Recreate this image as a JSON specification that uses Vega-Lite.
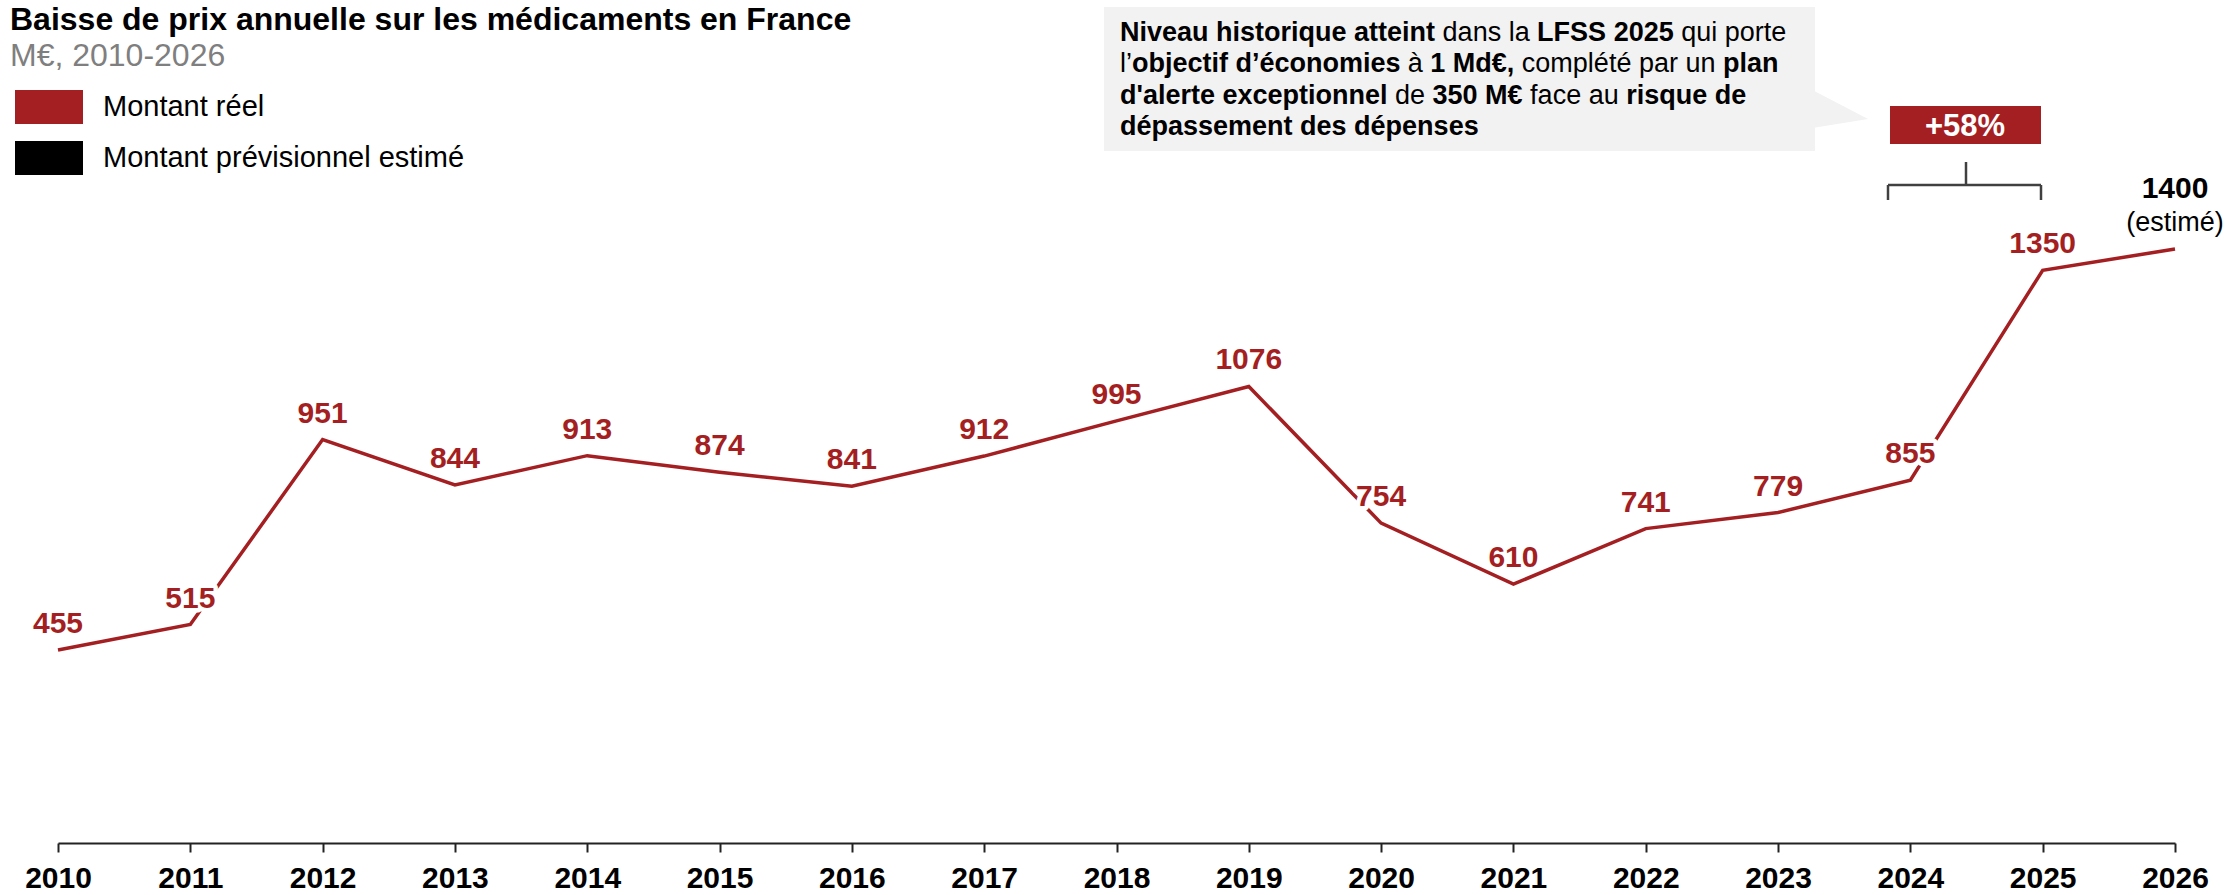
{
  "$schema": "https://vega.github.io/schema/vega-lite/v6.json",
  "width": 2117,
  "height": 843,
  "autosize": {"type": "none"},
  "padding": {"left": 58, "right": 50, "top": 0, "bottom": 52},
  "background": "white",
  "config": {"font": "Liberation Sans", "view": {"stroke": null}},
  "datasets": {
    "prix": [
      {"year": 2010, "value": 455, "type": "Montant réel"},
      {"year": 2011, "value": 515, "type": "Montant réel"},
      {"year": 2012, "value": 951, "type": "Montant réel"},
      {"year": 2013, "value": 844, "type": "Montant réel"},
      {"year": 2014, "value": 913, "type": "Montant réel"},
      {"year": 2015, "value": 874, "type": "Montant réel"},
      {"year": 2016, "value": 841, "type": "Montant réel"},
      {"year": 2017, "value": 912, "type": "Montant réel"},
      {"year": 2018, "value": 995, "type": "Montant réel"},
      {"year": 2019, "value": 1076, "type": "Montant réel"},
      {"year": 2020, "value": 754, "type": "Montant réel"},
      {"year": 2021, "value": 610, "type": "Montant réel"},
      {"year": 2022, "value": 741, "type": "Montant réel"},
      {"year": 2023, "value": 779, "type": "Montant réel"},
      {"year": 2024, "value": 855, "type": "Montant réel"},
      {"year": 2025, "value": 1350, "type": "Montant réel"},
      {"year": 2026, "value": 1400, "type": "Montant prévisionnel estimé"}
    ]
  },
  "layer": [
    {
      "data": {"name": "prix"},
      "mark": {"type": "line", "color": "#A41F22", "strokeWidth": 3.5},
      "encoding": {
        "x": {
          "field": "year", "type": "quantitative",
          "scale": {"domain": [2010, 2026], "nice": false, "zero": false},
          "axis": {
            "values": [2010, 2011, 2012, 2013, 2014, 2015, 2016, 2017, 2018, 2019, 2020, 2021, 2022, 2023, 2024, 2025, 2026],
            "format": "d", "title": null, "grid": false,
            "labelFont": "Liberation Sans", "labelFontSize": 30, "labelFontWeight": "bold", "labelColor": "black",
            "labelFlush": false, "labelOverlap": false, "labelPadding": 11,
            "tickSize": 9, "tickWidth": 2, "tickColor": "#222222",
            "domainColor": "#222222", "domainWidth": 2
          }
        },
        "y": {
          "field": "value", "type": "quantitative",
          "scale": {"domain": [0, 1987], "nice": false},
          "axis": null
        }
      }
    },
    {
      "data": {"name": "prix"},
      "transform": [{"filter": "datum.year < 2026"}],
      "mark": {"type": "text", "fontSize": 30, "fontWeight": "bold", "baseline": "alphabetic", "dy": -17, "fill": "white", "stroke": "white", "strokeWidth": 9, "strokeJoin": "round"},
      "encoding": {
        "x": {"field": "year", "type": "quantitative"},
        "y": {"field": "value", "type": "quantitative"},
        "text": {"field": "value", "type": "quantitative"}
      }
    },
    {
      "data": {"name": "prix"},
      "transform": [{"filter": "datum.year < 2026"}],
      "mark": {"type": "text", "fontSize": 30, "fontWeight": "bold", "baseline": "alphabetic", "dy": -17},
      "encoding": {
        "x": {"field": "year", "type": "quantitative"},
        "y": {"field": "value", "type": "quantitative"},
        "text": {"field": "value", "type": "quantitative"},
        "color": {
          "field": "type", "type": "nominal",
          "scale": {"domain": ["Montant réel", "Montant prévisionnel estimé"], "range": ["#A41F22", "#000000"]},
          "legend": {
            "title": null, "orient": "none", "legendX": -43, "legendY": 73, "direction": "vertical",
            "symbolType": "M-1,-0.5H1V0.5H-1Z", "symbolSize": 4624, "symbolStrokeWidth": 0, "symbolOpacity": 1,
            "labelFont": "Liberation Sans", "labelFontSize": 29, "labelColor": "black", "labelOffset": 20,
            "labelLimit": 0, "rowPadding": -28, "padding": 0
          }
        }
      }
    },
    {
      "data": {"name": "prix"},
      "transform": [{"filter": "datum.year == 2026"}],
      "mark": {"type": "text", "fontSize": 30, "fontWeight": "bold", "baseline": "alphabetic", "dy": -51},
      "encoding": {
        "x": {"field": "year", "type": "quantitative"},
        "y": {"field": "value", "type": "quantitative"},
        "text": {"field": "value", "type": "quantitative"},
        "color": {"field": "type", "type": "nominal"}
      }
    },
    {
      "data": {"name": "prix"},
      "transform": [{"filter": "datum.year == 2026"}],
      "mark": {"type": "text", "fontSize": 27, "baseline": "alphabetic", "dy": -18, "color": "black", "text": "(estimé)"},
      "encoding": {
        "x": {"field": "year", "type": "quantitative"},
        "y": {"field": "value", "type": "quantitative"}
      }
    },
    {
      "data": {"values": [{}]},
      "mark": {"type": "text", "align": "left", "baseline": "alphabetic", "fontSize": 32, "fontWeight": "bold", "color": "black", "text": "Baisse de prix annuelle sur les médicaments en France"},
      "encoding": {"x": {"datum": 2009.6372}, "y": {"datum": 1916.3}}
    },
    {
      "data": {"values": [{}]},
      "mark": {"type": "text", "align": "left", "baseline": "alphabetic", "fontSize": 32, "color": "#7F7F7F", "text": "M€, 2010-2026"},
      "encoding": {"x": {"datum": 2009.6372}, "y": {"datum": 1831.5}}
    },
    {
      "data": {"values": [{}]},
      "mark": {"type": "rect", "color": "#F2F2F2"},
      "encoding": {"x": {"datum": 2017.9055}, "x2": {"datum": 2023.279}, "y": {"datum": 1970.5}, "y2": {"datum": 1631.1}}
    },
    {
      "data": {"values": [{}]},
      "mark": {"type": "point", "shape": "M-1.1,-0.717L1,0.377L-1.1,0.717Z", "size": 2809, "filled": true, "color": "#F2F2F2", "opacity": 1, "strokeWidth": 0},
      "encoding": {"x": {"datum": 2023.4796}, "y": {"datum": 1730.1}}
    },
    {
      "data": {"values": [{}]},
      "mark": {"type": "text", "align": "left", "baseline": "alphabetic", "fontSize": 27, "fontWeight": "bold", "color": "black", "text": "Niveau historique atteint"},
      "encoding": {"x": {"datum": 2018.0265}, "y": {"datum": 1890.4}}
    },
    {
      "data": {"values": [{}]},
      "mark": {"type": "text", "align": "left", "baseline": "alphabetic", "fontSize": 27, "color": "black", "text": "dans la"},
      "encoding": {"x": {"datum": 2020.4646}, "y": {"datum": 1890.4}}
    },
    {
      "data": {"values": [{}]},
      "mark": {"type": "text", "align": "left", "baseline": "alphabetic", "fontSize": 27, "fontWeight": "bold", "color": "black", "text": "LFSS 2025"},
      "encoding": {"x": {"datum": 2021.179}, "y": {"datum": 1890.4}}
    },
    {
      "data": {"values": [{}]},
      "mark": {"type": "text", "align": "left", "baseline": "alphabetic", "fontSize": 27, "color": "black", "text": "qui porte"},
      "encoding": {"x": {"datum": 2022.268}, "y": {"datum": 1890.4}}
    },
    {
      "data": {"values": [{}]},
      "mark": {"type": "text", "align": "left", "baseline": "alphabetic", "fontSize": 27, "color": "black", "text": "l’"},
      "encoding": {"x": {"datum": 2018.0265}, "y": {"datum": 1816.6}}
    },
    {
      "data": {"values": [{}]},
      "mark": {"type": "text", "align": "left", "baseline": "alphabetic", "fontSize": 27, "fontWeight": "bold", "color": "black", "text": "objectif d’économies"},
      "encoding": {"x": {"datum": 2018.1171}, "y": {"datum": 1816.6}}
    },
    {
      "data": {"values": [{}]},
      "mark": {"type": "text", "align": "left", "baseline": "alphabetic", "fontSize": 27, "color": "black", "text": "à"},
      "encoding": {"x": {"datum": 2020.2016}, "y": {"datum": 1816.6}}
    },
    {
      "data": {"values": [{}]},
      "mark": {"type": "text", "align": "left", "baseline": "alphabetic", "fontSize": 27, "fontWeight": "bold", "color": "black", "text": "1 Md€,"},
      "encoding": {"x": {"datum": 2020.3717}, "y": {"datum": 1816.6}}
    },
    {
      "data": {"values": [{}]},
      "mark": {"type": "text", "align": "left", "baseline": "alphabetic", "fontSize": 27, "color": "black", "text": "complété par un"},
      "encoding": {"x": {"datum": 2021.0635}, "y": {"datum": 1816.6}}
    },
    {
      "data": {"values": [{}]},
      "mark": {"type": "text", "align": "left", "baseline": "alphabetic", "fontSize": 27, "fontWeight": "bold", "color": "black", "text": "plan"},
      "encoding": {"x": {"datum": 2022.5835}, "y": {"datum": 1816.6}}
    },
    {
      "data": {"values": [{}]},
      "mark": {"type": "text", "align": "left", "baseline": "alphabetic", "fontSize": 27, "fontWeight": "bold", "color": "black", "text": "d'alerte exceptionnel"},
      "encoding": {"x": {"datum": 2018.0265}, "y": {"datum": 1742.8}}
    },
    {
      "data": {"values": [{}]},
      "mark": {"type": "text", "align": "left", "baseline": "alphabetic", "fontSize": 27, "color": "black", "text": "de"},
      "encoding": {"x": {"datum": 2020.105}, "y": {"datum": 1742.8}}
    },
    {
      "data": {"values": [{}]},
      "mark": {"type": "text", "align": "left", "baseline": "alphabetic", "fontSize": 27, "fontWeight": "bold", "color": "black", "text": "350 M€"},
      "encoding": {"x": {"datum": 2020.3887}, "y": {"datum": 1742.8}}
    },
    {
      "data": {"values": [{}]},
      "mark": {"type": "text", "align": "left", "baseline": "alphabetic", "fontSize": 27, "color": "black", "text": "face au"},
      "encoding": {"x": {"datum": 2021.126}, "y": {"datum": 1742.8}}
    },
    {
      "data": {"values": [{}]},
      "mark": {"type": "text", "align": "left", "baseline": "alphabetic", "fontSize": 27, "fontWeight": "bold", "color": "black", "text": "risque de"},
      "encoding": {"x": {"datum": 2021.8521}, "y": {"datum": 1742.8}}
    },
    {
      "data": {"values": [{}]},
      "mark": {"type": "text", "align": "left", "baseline": "alphabetic", "fontSize": 27, "fontWeight": "bold", "color": "black", "text": "dépassement des dépenses"},
      "encoding": {"x": {"datum": 2018.0265}, "y": {"datum": 1668.8}}
    },
    {
      "data": {"values": [{}]},
      "mark": {"type": "rect", "color": "#A41F22"},
      "encoding": {"x": {"datum": 2023.846}, "x2": {"datum": 2024.9872}, "y": {"datum": 1737.1}, "y2": {"datum": 1647.6}}
    },
    {
      "data": {"values": [{}]},
      "mark": {"type": "text", "align": "center", "baseline": "alphabetic", "fontSize": 31, "fontWeight": "bold", "color": "white", "text": "+58%"},
      "encoding": {"x": {"datum": 2024.4128}, "y": {"datum": 1667.6}}
    },
    {
      "data": {"values": [{}]},
      "mark": {"type": "rule", "color": "#404040", "strokeWidth": 2.5},
      "encoding": {"x": {"datum": 2023.8309}, "y": {"datum": 1515.6}, "y2": {"datum": 1550.9}}
    },
    {
      "data": {"values": [{}]},
      "mark": {"type": "rule", "color": "#404040", "strokeWidth": 2.5},
      "encoding": {"x": {"datum": 2023.8309}, "x2": {"datum": 2024.9872}, "y": {"datum": 1550.9}}
    },
    {
      "data": {"values": [{}]},
      "mark": {"type": "rule", "color": "#404040", "strokeWidth": 2.5},
      "encoding": {"x": {"datum": 2024.4204}, "y": {"datum": 1550.9}, "y2": {"datum": 1605.2}}
    },
    {
      "data": {"values": [{}]},
      "mark": {"type": "rule", "color": "#404040", "strokeWidth": 2.5},
      "encoding": {"x": {"datum": 2024.9872}, "y": {"datum": 1515.6}, "y2": {"datum": 1550.9}}
    }
  ]
}
